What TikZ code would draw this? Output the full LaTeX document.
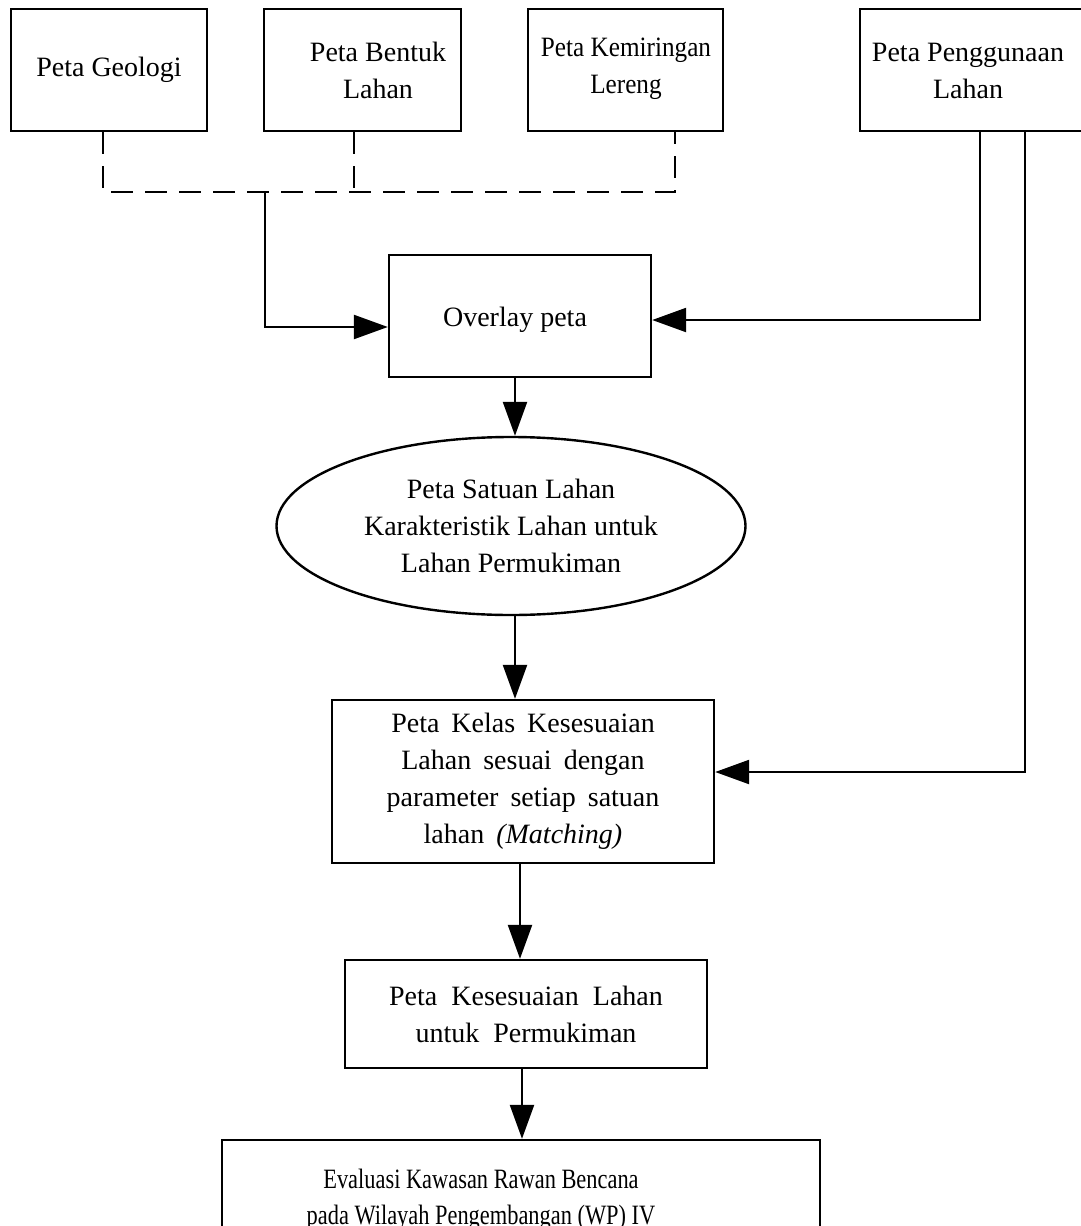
\documentclass[tikz,border=0pt]{standalone}
\usepackage{fontspec}
\setmainfont{Liberation Serif}
\newfontfamily\condfont{Liberation Serif}[FakeStretch=0.8]
\newfontfamily\semicondfont{Liberation Serif}[FakeStretch=0.9]
\newcommand\widesp[1]{\spaceskip=#1\relax}
\usetikzlibrary{arrows.meta,shapes.geometric}
\begin{document}
\begin{tikzpicture}[x=1pt,y=-1pt,
  box/.style={draw, line width=2.4pt, rectangle, inner sep=0pt, align=center,
    font=\fontsize{28}{37}\selectfont},
  txt/.style={align=center, inner sep=0pt, font=\fontsize{28}{37}\selectfont},
  link/.style={line width=2.4pt},
  arr/.style={link, -{Triangle[length=34pt,width=24pt]}},
  dsh/.style={link, dash pattern=on 22pt off 12pt}]
\useasboundingbox (0,0) rectangle (1081,1226);

% top row
\node[box, minimum width=196pt, minimum height=122pt] (geo) at (109,70) {Peta Geologi};
\node[box, minimum width=197pt, minimum height=122pt] (bent) at (362.5,70) {};
\node[txt] (bentT) at (378,70) {Peta Bentuk\\Lahan};
\node[box, minimum width=195pt, minimum height=122pt] (kem) at (625.5,70) {};
\node[txt, font=\fontsize{28}{37}\semicondfont] (kemT) at (626,69) {Peta Kemiringan\\Lereng};
\node[box, minimum width=240pt, minimum height=122pt] (guna) at (980,70) {};
\node[txt] (gunaT) at (968,71) {Peta Penggunaan\\Lahan};

% middle
\node[box, minimum width=262pt, minimum height=122pt] (over) at (520,316) {};
\node[txt] (overT) at (515,320) {Overlay peta};
\node[draw, line width=2.4pt, ellipse, inner sep=0pt, minimum width=469pt, minimum height=178pt,
  align=center, font=\fontsize{28}{37}\selectfont] (ell) at (511,526)
  {Peta Satuan Lahan\\Karakteristik Lahan untuk\\Lahan Permukiman};
\node[box, minimum width=382pt, minimum height=163pt,
  font=\fontsize{28}{37}\selectfont\widesp{12pt}] (kelas) at (523,781.5)
  {Peta Kelas Kesesuaian\\Lahan sesuai dengan\\parameter setiap satuan\\lahan \textit{(Matching)}};
\node[box, minimum width=362pt, minimum height=108pt,
  font=\fontsize{28}{37}\selectfont\widesp{14pt}] (kes) at (526,1014)
  {Peta Kesesuaian Lahan\\untuk Permukiman};
\node[box, minimum width=598pt, minimum height=120pt] (eval) at (521,1200) {};
\node[txt, font=\fontsize{28}{36}\condfont] (evalT) at (481,1200)
  {Evaluasi Kawasan Rawan Bencana\\pada Wilayah Pengembangan (WP) IV};

% dashed collector
\coordinate (jR) at (675,192);
\coordinate (jm) at (265,192);
\draw[dsh] ([xshift=-6pt]geo.south) |- (jR) -- ([xshift=49.5pt]kem.south);
\draw[dsh] ([xshift=-8.5pt]bent.south) -- ++(0,61);
\draw[arr] (jm) |- ([yshift=-11pt]over.west);

% from Penggunaan Lahan
\draw[arr] (guna.south) |- ([yshift=-4pt]over.east);
\draw[arr] ([xshift=45pt]guna.south) |- ([yshift=9.5pt]kelas.east);

% vertical chain
\draw[arr] ([xshift=-5pt]over.south) -- ([xshift=-5pt]over.south |- ell.north);
\draw[arr] ([xshift=4pt]ell.south) -- ([xshift=4pt]ell.south |- kelas.north);
\draw[arr] ([xshift=-3pt]kelas.south) -- ([xshift=-3pt]kelas.south |- kes.north);
\draw[arr] ([xshift=-4pt]kes.south) -- ([xshift=-4pt]kes.south |- eval.north);
\end{tikzpicture}
\end{document}
